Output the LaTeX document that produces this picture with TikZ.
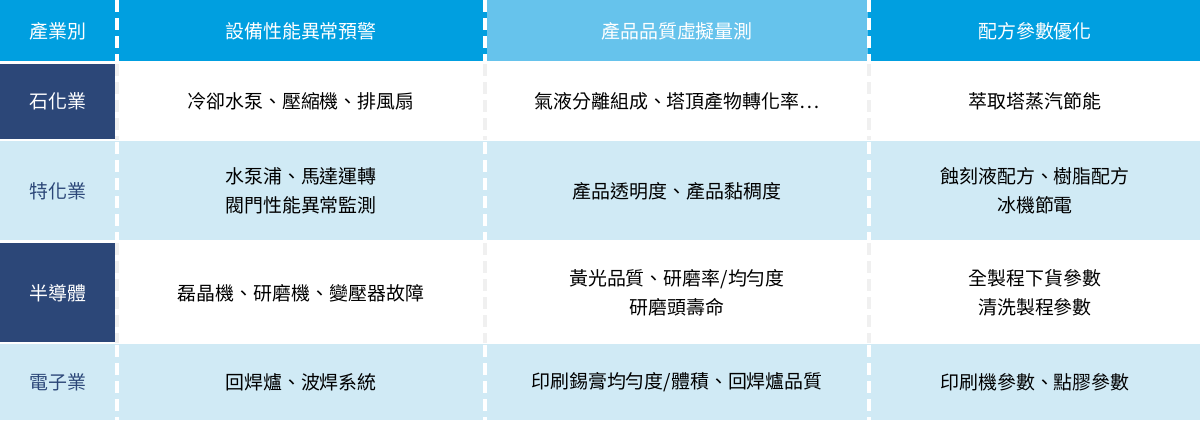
\documentclass[tikz,border=0pt]{standalone}
\usepackage{fontspec}
\setmainfont{Noto Sans CJK TC}
\definecolor{hdr}{HTML}{009FE0}
\definecolor{hdrl}{HTML}{66C3EC}
\definecolor{navy}{HTML}{2C4778}
\definecolor{lite}{HTML}{D0EAF5}
\definecolor{sep}{HTML}{F0F0F0}
\begin{document}
\begin{tikzpicture}[x=1bp,y=-1bp,
  cell/.style={inner sep=0pt,align=center,font=\fontsize{19}{29}\selectfont},
  htxt/.style={cell,text=white},
  sepl/.style={line width=4bp,dash pattern=on 12bp off 6bp}]
\useasboundingbox (0,0) rectangle (1200,420);
% header
\fill[hdr] (0,0) rectangle (1200,62);
\fill[hdrl] (487,0) rectangle (868,62);
% rows
\fill[white] (0,62) rectangle (1200,140);
\fill[lite] (0,140) rectangle (1200,241);
\fill[white] (0,241) rectangle (1200,343);
\fill[lite] (0,343) rectangle (1200,420);
\fill[navy] (0,64) rectangle (115,140);
\fill[navy] (0,243) rectangle (115,343);
\draw[white,line width=2bp] (0,62) -- (1200,62) (0,140)--(1200,140) (0,241)--(1200,241) (0,343)--(1200,343);
% separators
\foreach \x in {117,485,869}{
  \draw[sepl,white] (\x,0) -- (\x,62);
  \draw[sepl,sep] (\x,64) -- (\x,140);
  \draw[sepl,white] (\x,142) -- (\x,241);
  \draw[sepl,sep] (\x,243) -- (\x,343);
  \draw[sepl,white] (\x,345) -- (\x,420);
}
% header text
\node[htxt] (h0) at (58,31) {產業別};
\node[htxt] (h1) at (301,31) {設備性能異常預警};
\node[htxt] (h2) at (677,31) {產品品質虛擬量測};
\node[htxt] (h3) at (1035,31) {配方參數優化};
% row labels
\node[htxt] (r1) at (58,101) {石化業};
\node[cell,text=navy] (r2) at (58,191) {特化業};
\node[htxt] (r3) at (58,293) {半導體};
\node[cell,text=navy] (r4) at (58,382) {電子業};
% cells
\node[cell] (c11) at (301,101) {冷卻水泵、壓縮機、排風扇};
\node[cell] (c12) at (677,101) {氣液分離組成、塔頂產物轉化率…};
\node[cell] (c13) at (1035,101) {萃取塔蒸汽節能};
\node[cell] (c21) at (301,191) {水泵浦、馬達運轉\\閥門性能異常監測};
\node[cell] (c22) at (677,191) {產品透明度、產品黏稠度};
\node[cell] (c23) at (1035,191) {蝕刻液配方、樹脂配方\\冰機節電};
\node[cell] (c31) at (301,293) {磊晶機、研磨機、變壓器故障};
\node[cell] (c32) at (677,293) {黃光品質、研磨率/均勻度\\研磨頭壽命};
\node[cell] (c33) at (1035,293) {全製程下貨參數\\清洗製程參數};
\node[cell] (c41) at (301,382) {回焊爐、波焊系統};
\node[cell] (c42) at (677,382) {印刷錫膏均勻度/體積、回焊爐品質};
\node[cell] (c43) at (1035,382) {印刷機參數、點膠參數};
\end{tikzpicture}
\end{document}
